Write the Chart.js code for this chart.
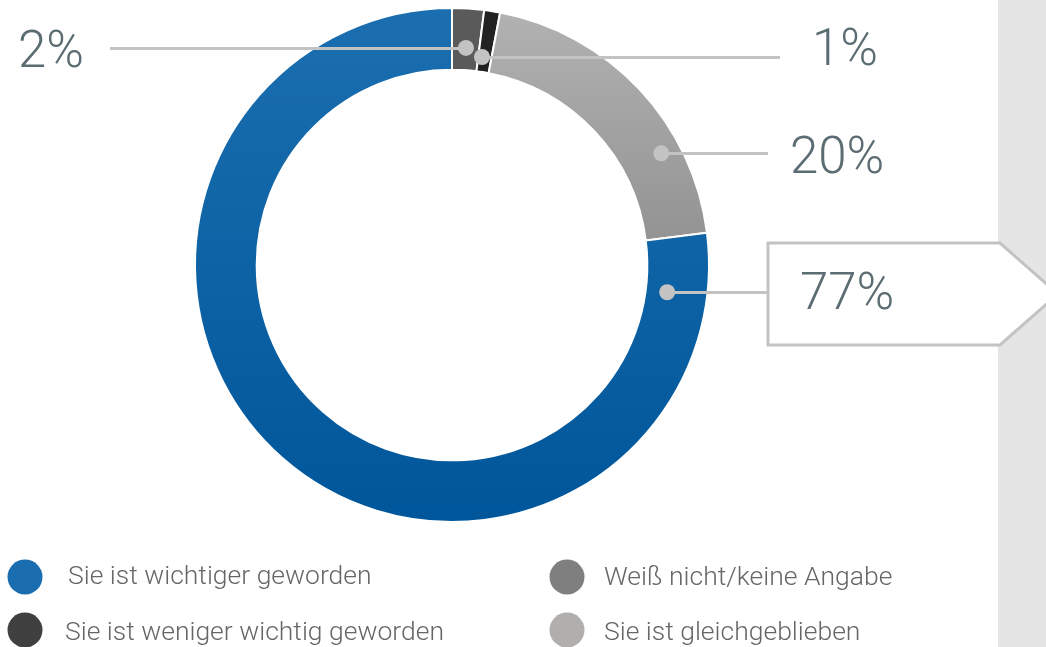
<!DOCTYPE html>
<html><head><meta charset="utf-8">
<script src="https://cdn.jsdelivr.net/npm/chart.js@4"></script>
<style>html,body{margin:0;padding:0;background:#fff;overflow:hidden}#wrap{width:1046px;height:647px;position:relative}</style>
</head><body><div id="wrap"><canvas id="c" width="1046" height="647"></canvas></div>
<script>
// ---- data ----
const categories = ['Weiß nicht/keine Angabe', 'Sie ist weniger wichtig geworden', 'Sie ist gleichgeblieben', 'Sie ist wichtiger geworden'];
const values = [2, 1, 20, 77];
const percentLabels = values.map(v => v + '%');
// legend reading order (2x2 grid: row1 col1, row1 col2, row2 col1, row2 col2)
const legendOrder = [3, 0, 1, 2];

// ---- styles ----
const segTop = ['#5a5a5a', '#222222', '#b2b2b2', '#1b6fb0'];
const segBot = ['#5a5a5a', '#222222', '#6e6e6e', '#00569a'];
const legendColors = ['#7f7f7f', '#404040', '#b1aeae', '#1a6daf'];
const PCT_COLOR = '#5b6c72';
const LEG_COLOR = '#666666';
const LINE_COLOR = '#c3c3c3';
const FONT = 'Roboto, "Open Sans", sans-serif';

// leader line placement (fractions along each arc, layout positions)
const leaders = [
  {fa: 0.51, fr: 0.36, lineTo: 110, textX: 84, align: 'right', base: 19},
  {fa: 0.28, fr: 0.24, lineTo: 780, textX: 812, align: 'left', base: 8},
  {fa: 0.71, fr: 0.68, lineTo: 768, textX: 790, align: 'left', base: 20},
  {fa: 0.052, fr: 0.35, lineTo: 768, textX: 800, align: 'left', base: 17, box: true}
];
const legendPos = [
  {cx: 25, cy: 577, tx: 68, ty: 584},
  {cx: 567, cy: 577, tx: 604, ty: 585},
  {cx: 25, cy: 630, tx: 65, ty: 640},
  {cx: 567, cy: 630, tx: 604, ty: 640}
];

const decor = {
  id: 'decor',
  beforeDraw(chart) {
    const c = chart.ctx;
    c.save();
    c.fillStyle = '#e5e5e5';
    c.fillRect(998, 0, chart.width - 998, chart.height);
    c.restore();
  },
  afterDraw(chart) {
    const c = chart.ctx;
    const arcs = chart.getDatasetMeta(0).data;
    c.save();
    // leader lines and labels
    arcs.forEach((arc, i) => {
      const L = leaders[i];
      const p = arc.getProps(['x', 'y', 'startAngle', 'endAngle', 'innerRadius', 'outerRadius'], true);
      const a = p.startAngle + L.fa * (p.endAngle - p.startAngle);
      const r = p.innerRadius + L.fr * (p.outerRadius - p.innerRadius);
      const dx = p.x + Math.cos(a) * r;
      const dy = p.y + Math.sin(a) * r;
      const ly = Math.round(dy);
      c.strokeStyle = LINE_COLOR;
      c.lineWidth = 3;
      c.beginPath();
      c.moveTo(dx, ly + 0.5);
      c.lineTo(L.lineTo, ly + 0.5);
      c.stroke();
      if (L.box) {
        const top = ly - 49, bot = ly + 53;
        c.beginPath();
        c.moveTo(768, top);
        c.lineTo(1000, top);
        c.lineTo(1058, (top + bot) / 2);
        c.lineTo(1000, bot);
        c.lineTo(768, bot);
        c.closePath();
        c.fillStyle = '#ffffff';
        c.fill();
        c.lineWidth = 3;
        c.stroke();
      }
      c.fillStyle = LINE_COLOR;
      c.beginPath();
      c.arc(dx, dy, 8, 0, Math.PI * 2);
      c.fill();
      c.fillStyle = PCT_COLOR;
      c.font = '300 51px ' + FONT;
      c.textAlign = L.align;
      c.textBaseline = 'alphabetic';
      c.fillText(percentLabels[i], L.textX, ly + L.base);
    });
    // legend
    legendOrder.forEach((idx, k) => {
      const P = legendPos[k];
      c.fillStyle = legendColors[idx];
      c.beginPath();
      c.ellipse(P.cx, P.cy, 17.5, 17.5, 0, 0, Math.PI * 2);
      c.fill();
      c.fillStyle = LEG_COLOR;
      c.font = '300 26.5px ' + FONT;
      c.textAlign = 'left';
      c.textBaseline = 'alphabetic';
      c.fillText(categories[idx], P.tx, P.ty);
    });
    c.restore();
  }
};

new Chart(document.getElementById('c'), {
  type: 'doughnut',
  data: {
    labels: categories,
    datasets: [{
      data: values,
      backgroundColor: (ctx) => {
        const chart = ctx.chart;
        const area = chart.chartArea;
        const i = ctx.dataIndex;
        if (!area) return segTop[i];
        const g = chart.ctx.createLinearGradient(0, area.top, 0, area.bottom);
        g.addColorStop(0, segTop[i]);
        g.addColorStop(1, segBot[i]);
        return g;
      },
      borderColor: '#ffffff',
      borderWidth: 2,
      hoverOffset: 0,
      offset: 0
    }]
  },
  options: {
    responsive: false,
    devicePixelRatio: 1,
    animation: false,
    cutout: '76%',
    rotation: 0,
    layout: {padding: {left: 194, right: 336, top: 7, bottom: 124}},
    events: [],
    plugins: {legend: {display: false}, tooltip: {enabled: false}}
  },
  plugins: [decor]
});
</script>
</body></html>
